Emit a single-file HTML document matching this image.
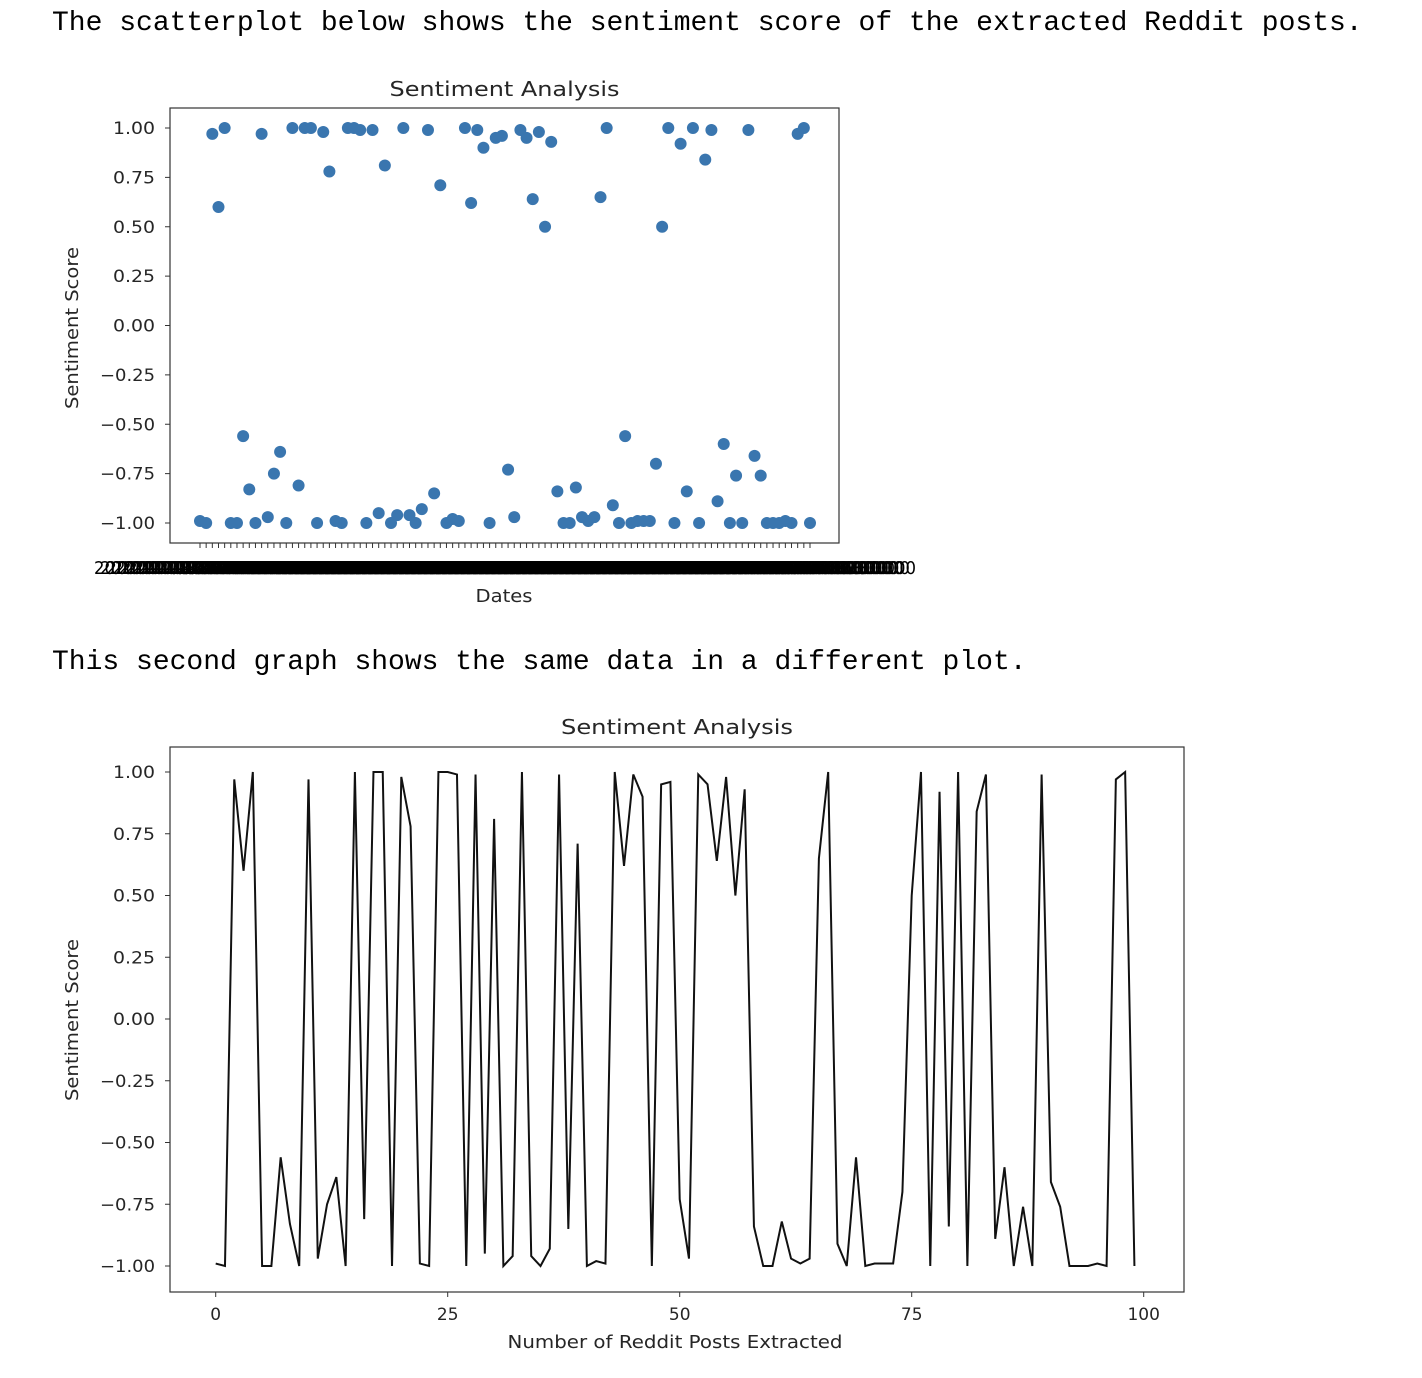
<!DOCTYPE html>
<html><head><meta charset="utf-8"><style>
body{margin:0;background:#fff;width:1422px;height:1378px;overflow:hidden}
svg{display:block}
.mono{font-family:"Liberation Mono","DejaVu Sans Mono",monospace;font-size:28px;fill:#000}
.tk{font-family:"DejaVu Sans","Liberation Sans",sans-serif;font-size:17px;fill:#262626}
.dl{font-family:"DejaVu Sans","Liberation Sans",sans-serif;font-size:18px;fill:#000}
.tt{font-family:"DejaVu Sans","Liberation Sans",sans-serif;font-size:20px;fill:#262626}
.al{font-family:"DejaVu Sans","Liberation Sans",sans-serif;font-size:18px;fill:#262626}
</style></head><body>
<svg id="svg" width="1422" height="1378">
<text class="mono" x="52" y="30">The scatterplot below shows the sentiment score of the extracted Reddit posts.</text>
<text class="mono" x="52" y="669">This second graph shows the same data in a different plot.</text>
<g id="scatter"></g>
<g id="line"></g>
</svg>
<script>
const sentimentScores=[-0.99,-1.0,0.97,0.6,1.0,-1.0,-1.0,-0.56,-0.83,-1.0,0.97,-0.97,-0.75,-0.64,-1.0,1.0,-0.81,1.0,1.0,-1.0,0.98,0.78,-0.99,-1.0,1.0,1.0,0.99,-1.0,0.99,-0.95,0.81,-1.0,-0.96,1.0,-0.96,-1.0,-0.93,0.99,-0.85,0.71,-1.0,-0.98,-0.99,1.0,0.62,0.99,0.90,-1.0,0.95,0.96,-0.73,-0.97,0.99,0.95,0.64,0.98,0.50,0.93,-0.84,-1.0,-1.0,-0.82,-0.97,-0.99,-0.97,0.65,1.0,-0.91,-1.0,-0.56,-1.0,-0.99,-0.99,-0.99,-0.70,0.50,1.0,-1.0,0.92,-0.84,1.0,-1.0,0.84,0.99,-0.89,-0.60,-1.0,-0.76,-1.0,0.99,-0.66,-0.76,-1.0,-1.0,-1.0,-0.99,-1.0,0.97,1.0,-1.0];
const yTicks=[1.0,0.75,0.5,0.25,0,-0.25,-0.5,-0.75,-1.0];
const lineXTicks=[0,25,50,75,100];
const dateLabel="2020-11-08 04:26:31.000";
const NS="http://www.w3.org/2000/svg";
function mk(parent,tag,attrs,text){const e=document.createElementNS(NS,tag);for(const k in attrs)e.setAttribute(k,attrs[k]);if(text!==undefined)e.textContent=text;parent.appendChild(e);return e;}
function fmt(v){return (v<0?"\u2212":"")+Math.abs(v).toFixed(2);}
function ytick(g,L,y,v){
 const s=fmt(v);
 const e=mk(g,'text',{class:'tk',x:L-15,y:y+6,'text-anchor':'end',textLength:(v<0?55:42),lengthAdjust:'spacingAndGlyphs'},s);
 return e;
}

// Scatter
(function(){
const g=document.getElementById('scatter');
const L=170,R=839,T=108,B=543;
const sx=i=>200+i*(610/(sentimentScores.length-1));
const sy=v=>128+(1-v)/2*395;
let t=mk(g,'text',{class:'tt',x:(L+R)/2,y:96,'text-anchor':'middle',textLength:230,lengthAdjust:'spacingAndGlyphs'},'Sentiment Analysis');


yTicks.forEach(v=>{
 mk(g,'line',{x1:L-5,x2:L,y1:sy(v),y2:sy(v),stroke:'#333','stroke-width':1});
 const e=ytick(g,L,sy(v),v);
 
 
});
sentimentScores.forEach((v,i)=>{
 mk(g,'line',{x1:sx(i),x2:sx(i),y1:B,y2:B+5,stroke:'#333','stroke-width':1});
 const e=mk(g,'text',{class:'dl',x:sx(i),y:574,'text-anchor':'middle',textLength:212,lengthAdjust:'spacingAndGlyphs'},dateLabel);
 
 
});
sentimentScores.forEach((v,i)=>{
 const c=mk(g,'circle',{cx:sx(i),cy:sy(v),r:6,fill:'#3a76af'});
 
 
});
mk(g,'rect',{x:L,y:T,width:R-L,height:B-T,fill:'none',stroke:'#333','stroke-width':1.2});
t=mk(g,'text',{class:'al',x:504,y:602,'text-anchor':'middle',textLength:57,lengthAdjust:'spacingAndGlyphs'},'Dates');


t=mk(g,'text',{class:'al',x:0,y:0,'text-anchor':'middle',textLength:162,lengthAdjust:'spacingAndGlyphs',transform:'translate(78,328) rotate(-90)'},'Sentiment Score');


})();

// Line
(function(){
const g=document.getElementById('line');
const L=170,R=1184,T=747,B=1292;
const sx=i=>215.7+i*9.28;
const sy=v=>772+(1-v)/2*494;
let t=mk(g,'text',{class:'tt',x:677,y:734,'text-anchor':'middle',textLength:232,lengthAdjust:'spacingAndGlyphs'},'Sentiment Analysis');


yTicks.forEach(v=>{
 mk(g,'line',{x1:L-5,x2:L,y1:sy(v),y2:sy(v),stroke:'#333','stroke-width':1});
 const e=ytick(g,L,sy(v),v);
 
 
});
lineXTicks.forEach(v=>{
 mk(g,'line',{x1:sx(v),x2:sx(v),y1:B,y2:B+5,stroke:'#333','stroke-width':1});
 const e=mk(g,'text',{class:'tk',x:sx(v),y:1320,'text-anchor':'middle'},String(v));
 
 
});
const p=mk(g,'polyline',{points:sentimentScores.map((v,i)=>sx(i)+','+sy(v)).join(' '),fill:'none',stroke:'#111','stroke-width':2,'stroke-linejoin':'miter'});


mk(g,'rect',{x:L,y:T,width:R-L,height:B-T,fill:'none',stroke:'#333','stroke-width':1.2});
t=mk(g,'text',{class:'al',x:675,y:1348,'text-anchor':'middle',textLength:335,lengthAdjust:'spacingAndGlyphs'},'Number of Reddit Posts Extracted');


t=mk(g,'text',{class:'al',x:0,y:0,'text-anchor':'middle',textLength:162,lengthAdjust:'spacingAndGlyphs',transform:'translate(78,1020) rotate(-90)'},'Sentiment Score');


})();
</script>
</body></html>
